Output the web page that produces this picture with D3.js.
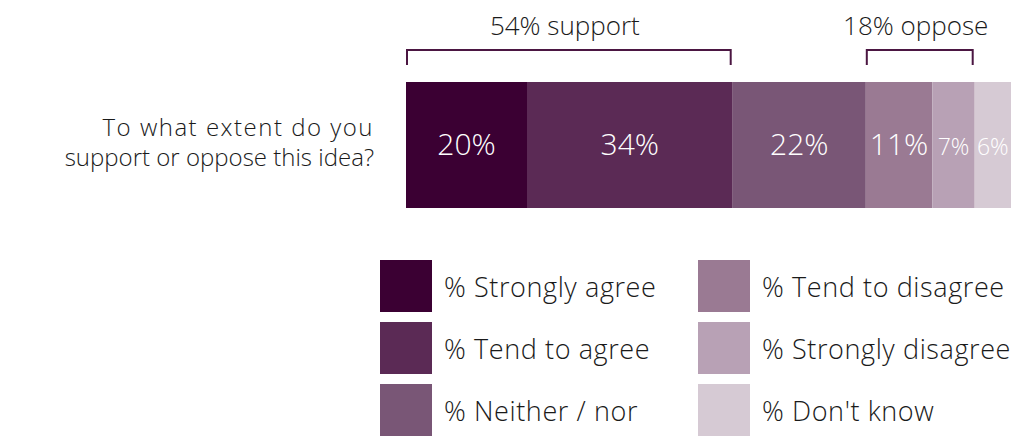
<!DOCTYPE html>
<html>
<head>
<meta charset="utf-8">
<script src="https://cdn.jsdelivr.net/npm/d3@7"></script>
<style>
  html, body { margin: 0; padding: 0; background: #fff; }
  text { font-family: "Open Sans", "DejaVu Sans", sans-serif; font-weight: 300; }
</style>
</head>
<body>
<svg id="chart" width="1027" height="436"></svg>
<script>
// Survey answer categories and their shares (%)
const categories = ["% Strongly agree", "% Tend to agree", "% Neither / nor",
                    "% Tend to disagree", "% Strongly disagree", "% Don't know"];
const values = [20, 34, 22, 11, 7, 6];
const colors = ["#3b0033", "#5b2a55", "#795676", "#9a7a93", "#b8a1b5", "#d6cad4"];
const question = ["To what extent do you", "support or oppose this idea?"];
// Grouped totals shown with brackets above the bar (segment index ranges)
const groups = [
  { label: "54% support", from: 0, to: 1 },
  { label: "18% oppose", from: 3, to: 4 }
];

const svg = d3.select("#chart");

const x = d3.scaleLinear().domain([0, 100]).range([406, 1011]);
const barTop = 82, barH = 126;

// Cumulative offsets for stacked segments
let acc = 0;
const segs = values.map((v, i) => {
  const s = { i, v, x0: acc, x1: acc + v };
  acc += v;
  return s;
});

svg.append("g").selectAll("rect")
  .data(segs).join("rect")
  .attr("x", d => x(d.x0))
  .attr("y", barTop)
  .attr("width", d => x(d.x1) - x(d.x0))
  .attr("height", barH)
  .attr("fill", d => colors[d.i]);

svg.append("g").selectAll("text")
  .data(segs).join("text")
  .attr("x", d => (x(d.x0) + x(d.x1)) / 2)
  .attr("y", 155)
  .attr("text-anchor", "middle")
  .attr("fill", "#fff")
  .attr("font-size", d => d.v < 10 ? 23 : 30)
  .text(d => d.v + "%");

// Question label, right-aligned next to the bar
svg.append("text")
  .attr("text-anchor", "end")
  .attr("font-size", 24)
  .attr("fill", "#1a1a1a")
  .selectAll("tspan")
  .data(question).join("tspan")
  .attr("x", 374)
  .attr("y", (d, i) => 136 + i * 30)
  .attr("letter-spacing", (d, i) => i === 0 ? 1.5 : 0)
  .text(d => d);

// Brackets and their totals
const bTop = 50, bBottom = 65;
groups.forEach(g => {
  const xa = x(segs[g.from].x0) + 1;
  const xb = x(segs[g.to].x1) - 2;
  svg.append("path")
    .attr("d", `M${xa},${bBottom}V${bTop}H${xb}V${bBottom}`)
    .attr("fill", "none")
    .attr("stroke", "#4b1642")
    .attr("stroke-width", 2);
  svg.append("text")
    .attr("x", (xa + xb) / 2 - 4)
    .attr("y", 35)
    .attr("text-anchor", "middle")
    .attr("font-size", 26)
    .attr("fill", "#1a1a1a")
    .text(g.label);
});

// Legend: two columns of three
const legend = svg.append("g").selectAll("g")
  .data(categories).join("g")
  .attr("transform", (d, i) => `translate(${i < 3 ? 380 : 698},${260 + (i % 3) * 62})`);
legend.append("rect")
  .attr("width", 52).attr("height", 52)
  .attr("fill", (d, i) => colors[i]);
legend.append("text")
  .attr("x", 64).attr("y", 37)
  .attr("font-size", 27)
  .attr("letter-spacing", 0.6)
  .attr("fill", "#1a1a1a")
  .text(d => d);
</script>
</body>
</html>
